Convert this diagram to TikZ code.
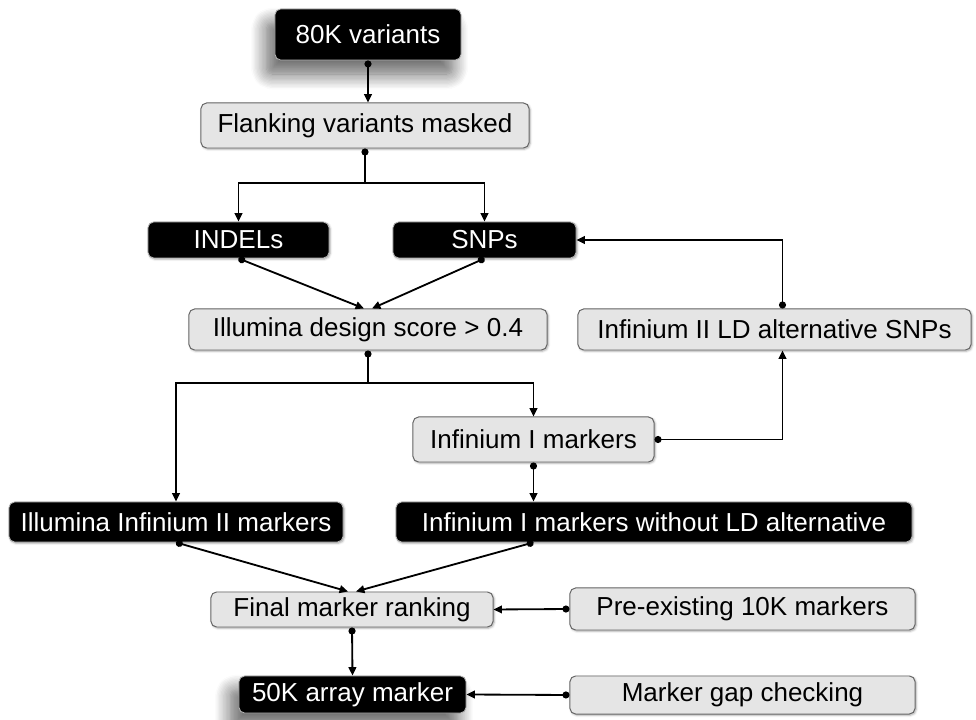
\documentclass[tikz,border=0pt]{standalone}
\usepackage{fontspec}
\setmainfont{Liberation Sans}
\usetikzlibrary{arrows.meta,calc,positioning,shadows.blur}

\begin{document}
\begin{tikzpicture}[x=0.025cm,y=-0.025cm,font=\fontsize{18.5}{22}\selectfont,
  greybox/.style={draw=gray!80!black, fill=gray!20, rounded corners=4pt, line width=0.7pt, inner sep=0pt,
    blur shadow={shadow xshift=0.8pt, shadow yshift=-0.8pt, shadow blur radius=1.5pt, shadow opacity=35}},
  blackbox/.style={draw=gray!60, fill=black, text=white, rounded corners=4pt, line width=0.6pt, inner sep=0pt,
    blur shadow={shadow xshift=0.8pt, shadow yshift=-0.8pt, shadow blur radius=1.5pt, shadow opacity=35}},
  bigshadow/.style={blur shadow={shadow xshift=-6pt, shadow yshift=-10pt, shadow blur radius=11pt, shadow blur steps=12, shadow opacity=35}},
  flow/.style={line width=1.3pt, {Circle[length=5pt]}-{Triangle[length=6pt,width=5.5pt]}},
  line/.style={line width=1.3pt, {Circle[length=5pt]}-},
  arrow/.style={line width=1.3pt, -{Triangle[length=6pt,width=5.5pt]}}]
  \useasboundingbox (0,0) rectangle (976,720);

  \node[blackbox, bigshadow, minimum width=4.65cm, minimum height=1.275cm] (v80k) at (368,34.5) {80K variants};
  \node[greybox, minimum width=8.2cm, minimum height=1.125cm] (flank) at (365,125.5) {Flanking variants masked};
  \node[blackbox, minimum width=4.525cm, minimum height=0.9cm] (indel) at (238.5,240) {INDELs};
  \node[blackbox, minimum width=4.575cm, minimum height=0.9cm] (snp) at (484.5,240) {SNPs};
  \node[greybox, minimum width=8.95cm, minimum height=1.025cm] (score) at (368,329.5) {Illumina design score > 0.4};
  \node[greybox, minimum width=9.825cm, minimum height=1.025cm] (ldalt) at (774.5,329.5) {Infinium II LD alternative SNPs};
  \node[greybox, minimum width=6.025cm, minimum height=1.125cm] (inf1) at (533.5,439.5) {Infinium I markers};
  \node[blackbox, minimum width=8.35cm, minimum height=1cm] (inf2) at (176,522) {Illumina Infinium II markers};
  \node[blackbox, minimum width=12.9cm, minimum height=1cm] (inf1noLD) at (654,522) {Infinium I markers without LD alternative};
  \node[greybox, minimum width=7.05cm, minimum height=0.875cm] (rank) at (352,609.5) {Final marker ranking};
  \node[greybox, minimum width=8.625cm, minimum height=1.05cm] (pre10k) at (742.5,609) {Pre-existing 10K markers};
  \node[blackbox, bigshadow, minimum width=5.675cm, minimum height=0.925cm] (arr50k) at (352.5,694.5) {50K array marker};
  \node[greybox, minimum width=8.625cm, minimum height=0.95cm, below=1.125cm of pre10k] (gap) {Marker gap checking};

  \coordinate (split1) at (365,183);
  \coordinate (split2) at (368,383);

  \draw[flow] (v80k.south) -- (v80k.south |- flank.north);
  \draw[line] (flank.south) -- (split1);
  \draw[arrow] (split1) -| (indel.north);
  \draw[arrow] (split1) -| (snp.north);
  \draw[flow] (indel.south) -- ([xshift=-1mm]score.north);
  \draw[flow] (snp.south) -- ([xshift=1mm]score.north);
  \draw[line] (score.south) -- (split2);
  \draw[arrow] (split2) -| (inf2.north);
  \draw[arrow] (split2) -| (inf1.north);
  \draw[flow] (inf1.east) -| ([xshift=2mm]ldalt.south);
  \draw[flow] ([xshift=2mm]ldalt.north) |- (snp.east);
  \draw[flow] (inf1.south) -- (inf1.south |- inf1noLD.north);
  \draw[flow] (inf2.south) -- ([xshift=-1mm]rank.north);
  \draw[flow] (inf1noLD.south -| inf1.south) -- ([xshift=1mm]rank.north);
  \draw[flow] (pre10k.west) -- (rank.east);
  \draw[flow] (rank.south) -- (arr50k.north);
  \draw[flow] (gap.west) -- (arr50k.east);
\end{tikzpicture}
\end{document}
